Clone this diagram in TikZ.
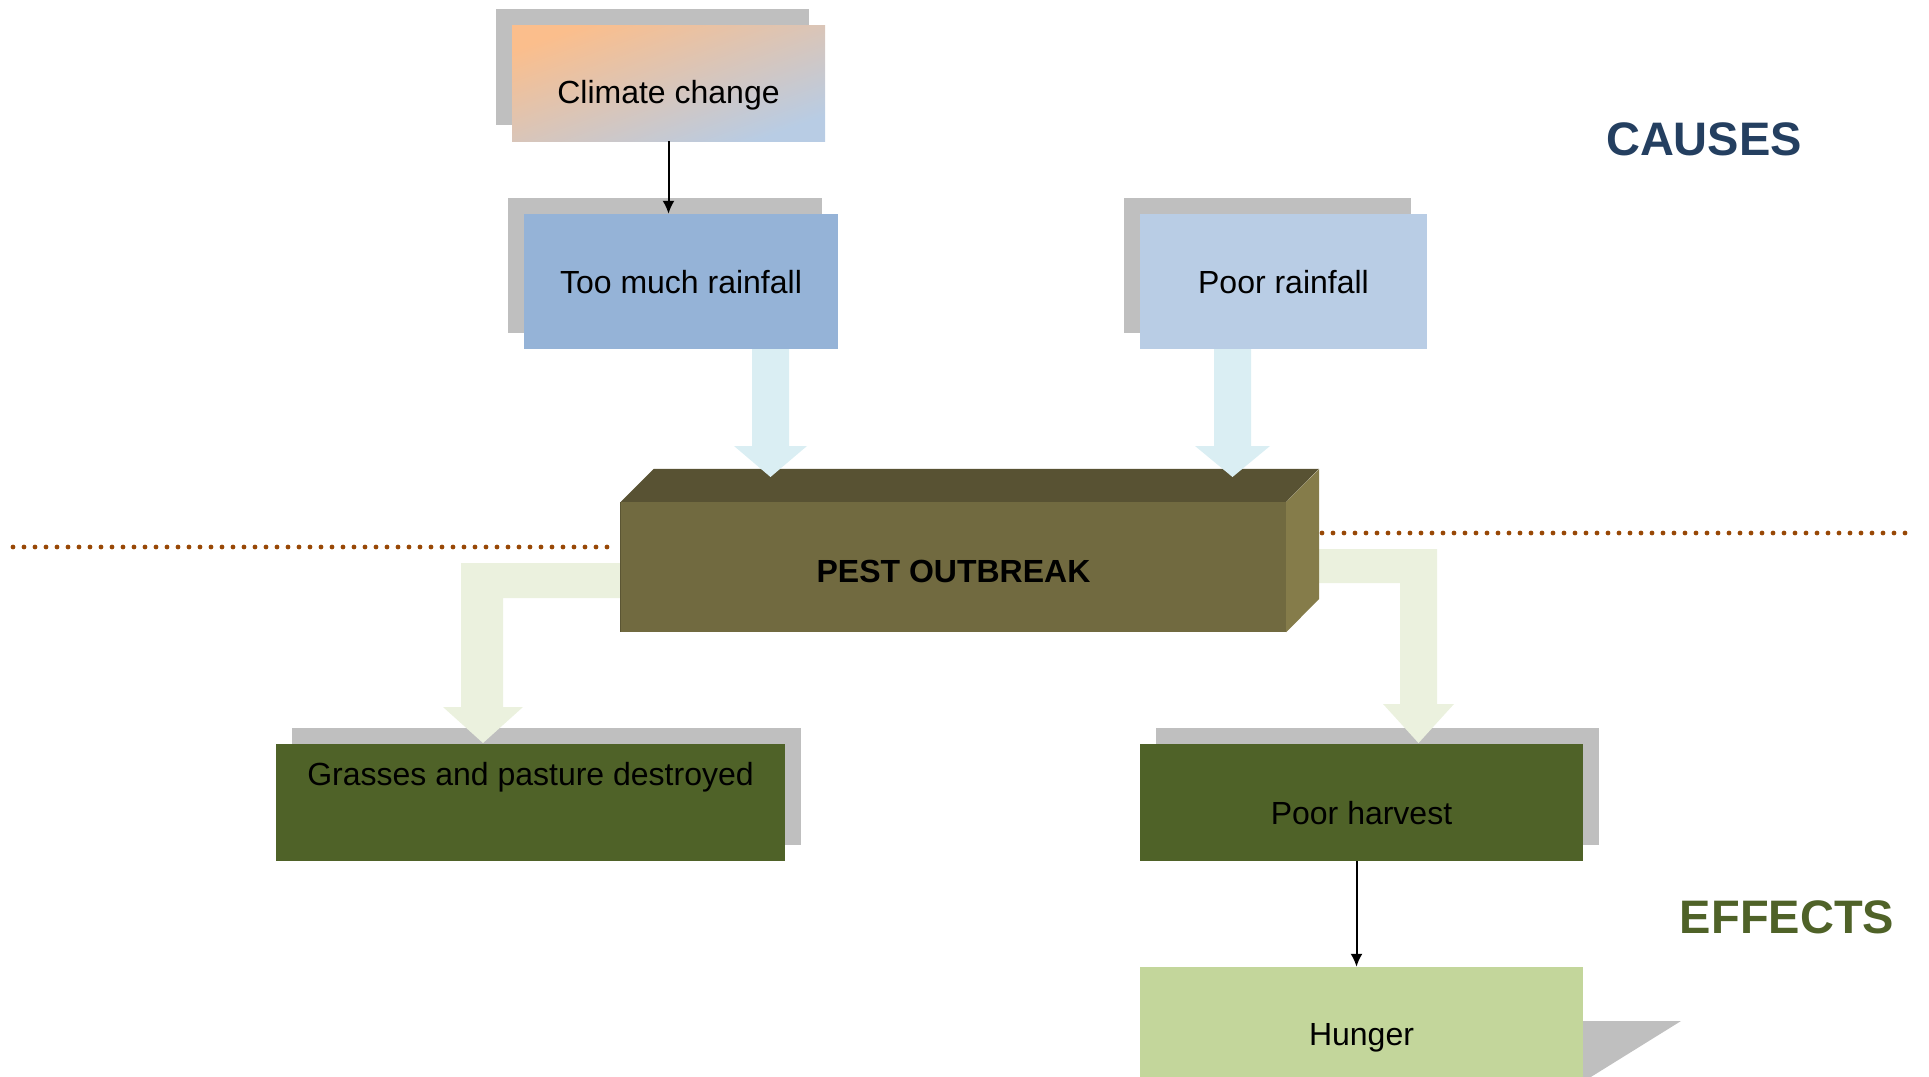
\documentclass[tikz,border=0pt]{standalone}
\usepackage{fontspec}
\setmainfont{Liberation Sans}
\usetikzlibrary{arrows.meta,shadows}
\definecolor{climorange}{HTML}{FBBE8C}
\definecolor{climmid}{HTML}{D8C4C6}
\definecolor{climblue}{HTML}{B8CCE4}
\definecolor{rainmid}{HTML}{95B3D7}
\definecolor{rainlight}{HTML}{B9CDE5}
\definecolor{shadowgray}{HTML}{BFBFBF}
\definecolor{arrowblue}{HTML}{DAEEF3}
\definecolor{arrowgreen}{HTML}{EBF1DE}
\definecolor{pestfront}{HTML}{716A40}
\definecolor{pesttop}{HTML}{585233}
\definecolor{pestside}{HTML}{857C4A}
\definecolor{darkgreen}{HTML}{4F6228}
\definecolor{lightgreen}{HTML}{C3D69B}
\definecolor{dotbrown}{HTML}{984806}
\definecolor{causeblue}{HTML}{243F60}
\begin{document}
\begin{tikzpicture}[x=1pt,y=-1pt,
  boxtext/.style={font=\fontsize{32}{38}\selectfont, text=black},
  cbox/.style={boxtext, rectangle, inner sep=0pt, draw=none},
  shadowUL/.style={drop shadow={opacity=1, fill=shadowgray, shadow xshift=-16pt, shadow yshift=16pt}},
  shadowUR/.style={drop shadow={opacity=1, fill=shadowgray, shadow xshift=16pt, shadow yshift=16pt}},
  thinarrow/.style={draw=black, line width=2pt, -{Latex[length=13pt,width=12pt]}},
  dotline/.style={draw=dotbrown, line width=4.8pt, line cap=round, dash pattern=on 0pt off 11pt},
  heading/.style={font=\fontsize{47}{56}\selectfont\bfseries, inner sep=0pt}
]
\useasboundingbox (0,0) rectangle (1929,1076);
\clip (0,0) rectangle (1929,1076);

% dotted separator lines
\draw[dotline] (13,547) -- (618,547);
\draw[dotline] (1322,533) -- (1910,533);

% cause boxes
\node[cbox, shadowUL, shade, top color=climorange, middle color=climmid, bottom color=climblue, shading angle=20,
      minimum width=313pt, minimum height=116pt, text height=41pt, text depth=0pt]
      (climate) at (668.5,83) {Climate change};
\node[cbox, shadowUL, fill=rainmid, minimum width=314pt, minimum height=135pt,
      text height=23pt, text depth=0pt]
      (rainA) at (681,281.5) {Too much rainfall};
\node[cbox, shadowUL, fill=rainlight, minimum width=287pt, minimum height=135pt,
      text height=23pt, text depth=0pt]
      (rainB) at (1283.5,281.5) {Poor rainfall};

% effect boxes
\node[cbox, shadowUR, fill=darkgreen, minimum width=509pt, minimum height=117pt,
      text height=0pt, text depth=35pt]
      (grass) at (530.5,802.5) {Grasses and pasture destroyed};
\node[cbox, shadowUR, fill=darkgreen, minimum width=443pt, minimum height=117pt,
      text height=43pt, text depth=0pt]
      (harvest) at (1361.5,802.5) {Poor harvest};

% hunger shadow and box
\fill[shadowgray] (1580,1021) -- (1681,1021) -- (1586,1080) -- (1580,1080) -- cycle;
\node[cbox, fill=lightgreen, minimum width=443pt, minimum height=117pt,
      text height=39pt, text depth=0pt]
      (hunger) at (1361.5,1025.5) {Hunger};

% green elbow arrows (behind pest box)
\fill[arrowgreen] (622,563) -- (461,563) -- (461,707) -- (443,707) -- (483,743)
      -- (523,707) -- (503,707) -- (503,598) -- (622,598) -- cycle;
\fill[arrowgreen] (1318,549) -- (1437,549) -- (1437,704) -- (1454,704) -- (1418.5,743)
      -- (1383,704) -- (1400,704) -- (1400,583) -- (1318,583) -- cycle;

% pest outbreak 3D box
\node[boxtext, font=\fontsize{32}{38}\selectfont\bfseries, fill=pestfront, inner sep=0pt,
      minimum width=665pt, minimum height=130pt, text height=31pt, text depth=0pt]
      (pest) at (953.5,567) {PEST OUTBREAK};
\fill[pesttop] (pest.north west) -- ++(33,-33) -- ++(665,0) -- (pest.north east) -- cycle;
\fill[pestside] (pest.north east) -- ++(33,-33) -- ++(0,130) -- (pest.south east) -- cycle;
\draw[pestfront!80!black, line width=0.8pt] (pest.north west) -- (pest.south west);

% blue block arrows
\fill[arrowblue] (752,349) -- (789,349) -- (789,446) -- (807,446) -- (770.5,477)
      -- (734,446) -- (752,446) -- cycle;
\fill[arrowblue] (1214,349) -- (1251,349) -- (1251,446) -- (1270,446) -- (1232.5,477)
      -- (1195,446) -- (1214,446) -- cycle;

% thin arrows
\draw[thinarrow] (climate.south) -- (climate.south |- rainA.north);
\draw[thinarrow] ([xshift=-5pt]harvest.south) -- ([xshift=-5pt]harvest.south |- hunger.north);

% headings
\node[heading, text=causeblue] (causes) at (1704,139) {CAUSES};
\node[heading, text=darkgreen] (effects) at (1787,917) {EFFECTS};
\end{tikzpicture}
\end{document}
